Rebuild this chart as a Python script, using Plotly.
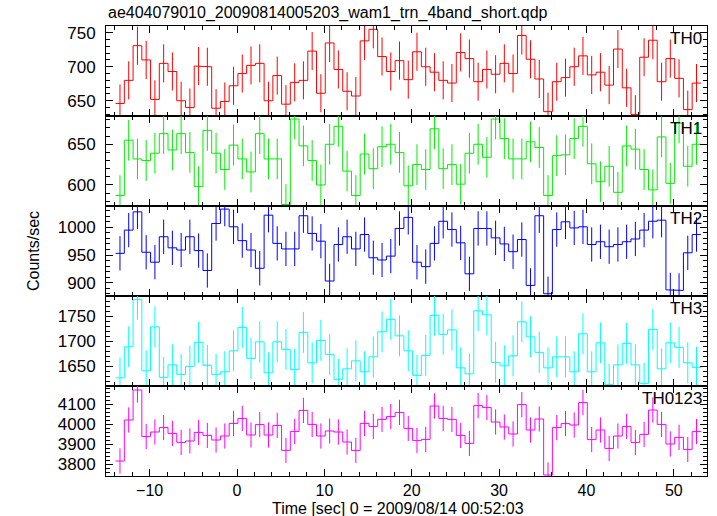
import plotly.graph_objects as go

# ---------------- data ----------------
times = [-13.4, -12.4, -11.4, -10.4, -9.4, -8.4, -7.4, -6.4, -5.4, -4.4,
         -3.4, -2.4, -1.4, -0.4, 0.6, 1.6, 2.6, 3.6, 4.6, 5.6,
         6.6, 7.6, 8.6, 9.6, 10.6, 11.6, 12.6, 13.6, 14.6, 15.6,
         16.6, 17.6, 18.6, 19.6, 20.6, 21.6, 22.6, 23.6, 24.6, 25.6,
         26.6, 27.6, 28.6, 29.6, 30.6, 31.6, 32.6, 33.6, 34.6, 35.6,
         36.6, 37.6, 38.6, 39.6, 40.6, 41.6, 42.6, 43.6, 44.6, 45.6,
         46.6, 47.6, 48.6, 49.6, 50.6, 51.6, 52.6]
bin_width = 1.0

th0 = [646, 680, 731, 710, 652, 705, 693, 650, 640, 701,
       700, 639, 649, 672, 690, 702, 705, 650, 687, 645,
       677, 680, 723, 661, 735, 696, 664, 657, 738, 755,
       715, 693, 709, 681, 722, 700, 692, 680, 676, 721,
       712, 678, 696, 689, 705, 690, 746, 711, 682, 634,
       678, 684, 700, 716, 688, 692, 673, 726, 669, 630,
       714, 739, 678, 712, 683, 637, 676]
th1 = [587, 655, 632, 630, 639, 663, 643, 663, 640, 598,
       667, 639, 619, 649, 632, 616, 663, 632, 632, 576,
       681, 648, 630, 600, 650, 672, 617, 587, 638, 620,
       647, 650, 640, 599, 625, 619, 669, 620, 625, 601,
       639, 650, 634, 681, 657, 632, 632, 653, 646, 587,
       636, 637, 657, 672, 626, 604, 623, 591, 648, 644,
       619, 594, 659, 602, 676, 623, 650]
th2 = [953, 995, 1028, 955, 937, 983, 963, 959, 983, 958,
       922, 1007, 1033, 1001, 976, 959, 926, 1022, 971, 961,
       961, 1021, 989, 975, 903, 969, 983, 961, 987, 945,
       941, 948, 998, 1018, 937, 929, 971, 1011, 996, 972,
       916, 998, 998, 981, 970, 956, 978, 895, 1021, 880,
       996, 1010, 999, 1001, 969, 974, 965, 969, 974, 979,
       995, 1011, 1013, 887, 886, 954, 987]
th3 = [1627, 1689, 1784, 1641, 1729, 1628, 1653, 1634, 1650, 1698,
       1652, 1634, 1639, 1681, 1728, 1666, 1699, 1637, 1699, 1684,
       1644, 1718, 1657, 1702, 1674, 1624, 1645, 1661, 1639, 1669,
       1719, 1744, 1711, 1681, 1632, 1672, 1752, 1714, 1723, 1647,
       1635, 1761, 1753, 1658, 1651, 1671, 1739, 1709, 1678, 1647,
       1669, 1669, 1639, 1715, 1639, 1697, 1614, 1653, 1696, 1653,
       1616, 1724, 1645, 1697, 1688, 1657, 1648]
th0123 = [3815, 4020, 4170, 3937, 3960, 3982, 3953, 3908, 3915, 3958,
          3943, 3920, 3940, 4003, 4028, 3945, 3997, 3945, 3993, 3868,
          3963, 4068, 3998, 3940, 3965, 3960, 3910, 3868, 4003, 3988,
          4023, 4037, 4058, 3978, 3917, 3923, 4090, 4028, 4023, 3943,
          3903, 4092, 4082, 4010, 3985, 3950, 4097, 3970, 4025, 3745,
          3982, 4002, 3995, 4107, 3922, 3970, 3878, 3940, 3988, 3908,
          3948, 4070, 3998, 3900, 3933, 3873, 3962]

panel_names = ["TH0", "TH1", "TH2", "TH3", "TH0123"]
panel_values = [th0, th1, th2, th3, th0123]
panel_errors = [28, 25, 31, 41, 63]
panel_colors = ["#ff0000", "#00ee00", "#0000ff", "#00ffff", "#ff00ff"]
y_ranges = [[627.6, 759.9], [574.2, 684.7], [875.9, 1038.6],
            [1610.7, 1790.7], [3740, 4190]]
y_tickvals = [[650, 700, 750], [600, 650], [900, 950, 1000],
              [1650, 1700, 1750], [3800, 3900, 4000, 4100]]
y_minor = [10, 10, 10, 10, 20]
x_tickvals = [-10, 0, 10, 20, 30, 40, 50]
x_ticktext = ["\u221210", "0", "10", "20", "30", "40", "50"]

title_text = "ae404079010_20090814005203_wam1_trn_4band_short.qdp"
x_title = "Time [sec] 0 = 2009/08/14 00:52:03"
y_title = "Counts/sec"

# ---------------- figure ----------------
FONT = "Liberation Sans, Arial, Helvetica, sans-serif"
W, H = 717, 516
ML, MR, MT, MB = 106, 10, 26, 40
PW = W - ML - MR
PH = H - MT - MB

fig = go.Figure()
n = len(panel_names)
layout_axes = {}
annotations = []
for i in range(n):
    sfx = "" if i == 0 else str(i + 1)
    xa, ya = "x" + sfx, "y" + sfx
    vals = panel_values[i]
    col = panel_colors[i]
    xs, ys = [], []
    for t, v in zip(times, vals):
        xs += [t - bin_width / 2, t + bin_width / 2]
        ys += [v, v]
    fig.add_trace(go.Scatter(x=xs, y=ys, mode="lines",
                             line=dict(color=col, width=1),
                             xaxis=xa, yaxis=ya, hoverinfo="skip",
                             showlegend=False))
    fig.add_trace(go.Scatter(x=times, y=vals, mode="markers",
                             marker=dict(size=1, color="rgba(0,0,0,0)"),
                             error_y=dict(type="constant", value=panel_errors[i],
                                          color=col, thickness=1, width=0),
                             xaxis=xa, yaxis=ya, hoverinfo="skip",
                             showlegend=False))
    top = 1 - i / n
    bot = 1 - (i + 1) / n
    layout_axes["xaxis" + sfx] = dict(
        domain=[0, 1], anchor=ya, range=[-15.0, 53.8],
        tickmode="array", tickvals=x_tickvals, ticktext=x_ticktext,
        showticklabels=(i == n - 1),
        ticks="inside", ticklen=7, tickwidth=1, tickcolor="black",
        minor=dict(ticks="inside", ticklen=4, dtick=2, tick0=0,
                   tickcolor="black", tickwidth=1, showgrid=False),
        showline=True, linecolor="black", linewidth=1, mirror="ticks",
        showgrid=False, zeroline=False,
        tickfont=dict(family=FONT, size=16, color="black"),
        ticklabelstandoff=0,
    )
    layout_axes["yaxis" + sfx] = dict(
        domain=[bot, top], anchor=xa, range=y_ranges[i],
        tickmode="array", tickvals=y_tickvals[i],
        ticks="inside", ticklen=7, tickwidth=1, tickcolor="black",
        minor=dict(ticks="inside", ticklen=4, dtick=y_minor[i], tick0=0,
                   tickcolor="black", tickwidth=1, showgrid=False),
        showline=True, linecolor="black", linewidth=1, mirror="ticks",
        showgrid=False, zeroline=False,
        tickfont=dict(family=FONT, size=17, color="black"),
        ticklabelstandoff=6,
    )
    annotations.append(dict(text=panel_names[i], xref="paper", yref="paper",
                            x=1, y=top, xanchor="right", yanchor="top",
                            xshift=-3, yshift=-1, showarrow=False,
                            font=dict(family=FONT, size=17, color="black")))

annotations.append(dict(text=title_text, xref="paper", yref="paper",
                        x=0, y=1 + 13 / PH, xanchor="left", yanchor="middle",
                        showarrow=False,
                        font=dict(family=FONT, size=16, color="black")))
annotations.append(dict(text=x_title, xref="paper", yref="paper",
                        x=(398 - ML) / PW, y=-(508 - MT - PH) / PH,
                        xanchor="center", yanchor="middle", showarrow=False,
                        font=dict(family=FONT, size=16, color="black")))
annotations.append(dict(text=y_title, xref="paper", yref="paper",
                        x=(33 - ML) / PW, y=0.5, textangle=-90,
                        xanchor="center", yanchor="middle", showarrow=False,
                        font=dict(family=FONT, size=16, color="black")))

fig.update_layout(
    width=W, height=H,
    margin=dict(l=ML, r=MR, t=MT, b=MB, pad=0),
    paper_bgcolor="white", plot_bgcolor="white",
    showlegend=False,
    annotations=annotations,
    **layout_axes,
)

fig.write_html("out.html",
               config={"displayModeBar": False},
               post_script="document.body.style.margin='0px';"
                           "document.body.style.padding='0px';")
